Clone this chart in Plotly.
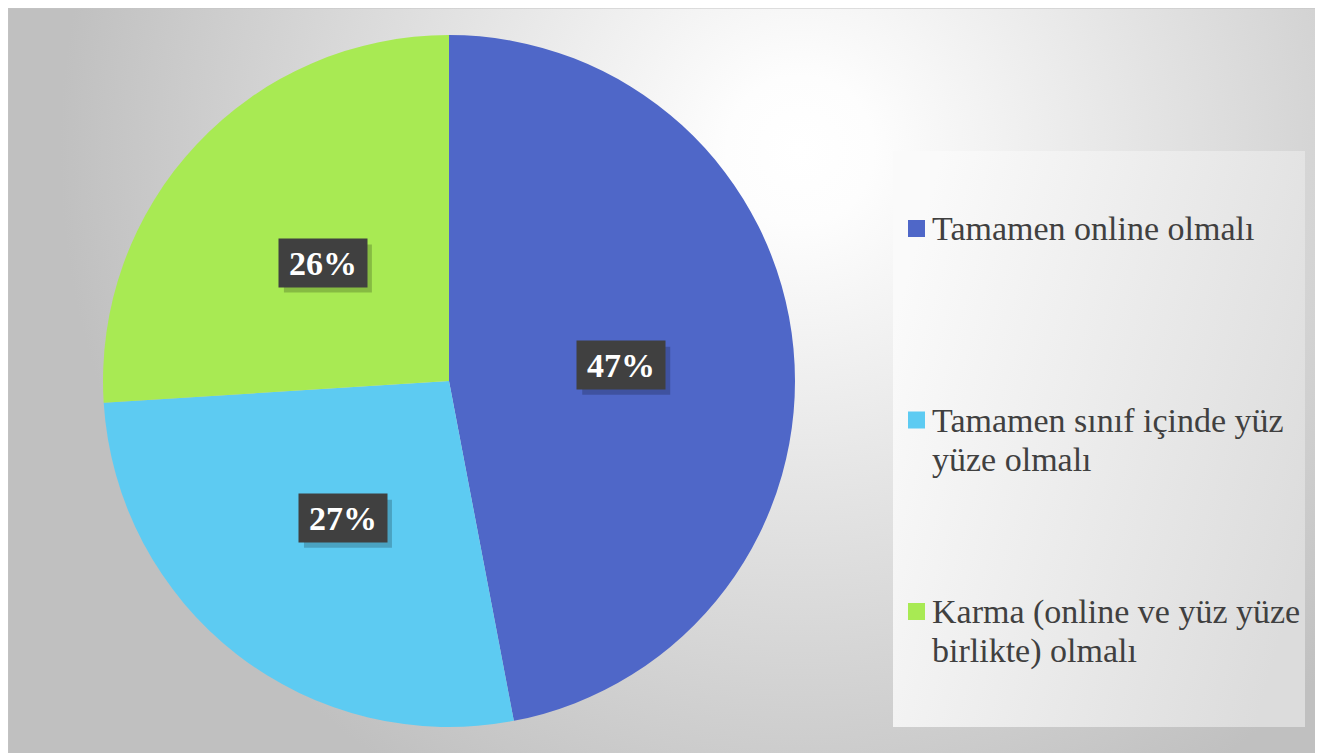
import base64
import math
import plotly.graph_objects as go

# ---- data ----
categories = ["Tamamen online olmalı", "Tamamen sınıf içinde yüz yüze olmalı",
              "Karma (online ve yüz yüze birlikte) olmalı"]
legend_lines = [["Tamamen online olmalı"],
                ["Tamamen sınıf içinde yüz", "yüze olmalı"],
                ["Karma (online ve yüz yüze", "birlikte) olmalı"]]
values = [47, 27, 26]
colors = ["#4F67C8", "#5DCBF2", "#A8EA53"]

# page puts the figure 8px in from the corner, so size/positions are shifted by that
OFF = 8
W, H = 1323 - OFF, 753 - OFF


def px_x(x):
    return (x - OFF) / W


def px_y(y):
    return 1 - (y - OFF) / H


# background: radial grey gradient + legend panel, drawn as svg
svg = f'''<svg xmlns="http://www.w3.org/2000/svg" width="{W}" height="{H}">
<defs>
<radialGradient id="bg" gradientUnits="userSpaceOnUse" cx="{800 - OFF}" cy="{150 - OFF}" r="740">
<stop offset="0" stop-color="#ffffff"/><stop offset="0.1" stop-color="#fdfdfd"/>
<stop offset="1" stop-color="#c0c0c0"/></radialGradient>
<linearGradient id="lg" x1="0" y1="0.3" x2="1" y2="0.7">
<stop offset="0" stop-color="#fafafa"/><stop offset="1" stop-color="#dcdcdc"/></linearGradient>
</defs>
<rect x="0" y="0" width="{W}" height="{H}" fill="#ffffff"/>
<rect x="0" y="0" width="{1319 - OFF}" height="{H + 2}" fill="url(#bg)" stroke="#c4c4c4" stroke-width="1"/>
<rect x="{893 - OFF}" y="{151 - OFF}" width="412" height="576" fill="url(#lg)"/>
</svg>'''
src = "data:image/svg+xml;base64," + base64.b64encode(svg.encode()).decode()

# pie geometry (reference pixels)
cx, cy, r = 449, 381, 346
dom_x = [px_x(cx - r), px_x(cx + r)]
dom_y = [px_y(cy + r), px_y(cy - r)]

fig = go.Figure()
fig.add_trace(go.Pie(labels=categories, values=values, sort=False, direction="clockwise",
                     rotation=0, marker=dict(colors=colors, line=dict(width=0)),
                     textinfo="none", hoverinfo="label+percent", showlegend=False,
                     domain=dict(x=dom_x, y=dom_y)))

# percentage labels at half radius, mid-angle of each slice
total = sum(values)
start = 0.0
bw, bh = 88, 48
for v in values:
    mid = (start + v / 2) / total * 2 * math.pi
    start += v
    lx = cx + 0.5 * r * math.sin(mid)
    ly = cy - 0.5 * r * math.cos(mid)
    # soft shadow behind the label box
    fig.add_shape(type="rect", xref="paper", yref="paper",
                  x0=px_x(lx - bw / 2 + 5), x1=px_x(lx + bw / 2 + 5),
                  y0=px_y(ly + bh / 2 + 6), y1=px_y(ly - bh / 2 + 6),
                  fillcolor="rgba(0,0,0,0.2)", line=dict(width=0))
    fig.add_annotation(x=px_x(lx), y=px_y(ly), xref="paper", yref="paper",
                       xanchor="center", yanchor="middle",
                       text=f"<b>{round(v / total * 100)}%</b>", showarrow=False,
                       bgcolor="#404040", width=bw - 2, height=bh - 2, align="center",
                       font=dict(family="Liberation Serif", size=34, color="#ffffff"),
                       borderpad=1)

# legend panel
leg_x, leg_y0, leg_gap, line_h = 908, 228.5, 191.5, 39
for i, lines in enumerate(legend_lines):
    yc = leg_y0 + i * leg_gap
    fig.add_shape(type="rect", xref="paper", yref="paper",
                  x0=px_x(leg_x), x1=px_x(leg_x + 17),
                  y0=px_y(yc + 8.5), y1=px_y(yc - 8.5),
                  fillcolor=colors[i], line=dict(width=0))
    for j, ln in enumerate(lines):
        fig.add_annotation(x=px_x(leg_x + 22), y=px_y(yc + j * line_h),
                           xref="paper", yref="paper", xanchor="left", yanchor="middle",
                           text=ln, showarrow=False,
                           font=dict(family="Liberation Serif", size=34, color="#404040"))

fig.update_layout(width=W, height=H, margin=dict(l=0, r=0, t=0, b=0),
                  paper_bgcolor="#ffffff",
                  images=[dict(source=src, xref="paper", yref="paper", x=0, y=1,
                               sizex=1, sizey=1, sizing="stretch", layer="below",
                               xanchor="left", yanchor="top")])

fig.write_html("out.html")
